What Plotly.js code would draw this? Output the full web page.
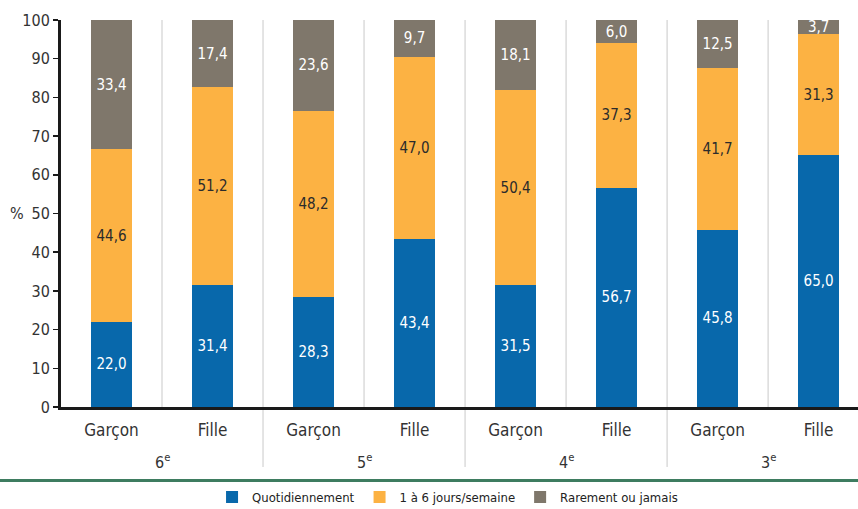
<!DOCTYPE html>
<html>
<head>
<meta charset="utf-8">
<script src="https://cdn.plot.ly/plotly-3.0.1.min.js"></script>
<style>html,body{margin:0;padding:0;background:#fff;}#chart{width:858px;height:509px;}</style>
</head>
<body>
<div id="chart"></div>
<script>
const niveaux = ['6', '5', '4', '3'];
const sexes = ['Garçon', 'Fille'];
const quotidiennement = [22.0, 31.4, 28.3, 43.4, 31.5, 56.7, 45.8, 65.0];
const unASixJours = [44.6, 51.2, 48.2, 47.0, 50.4, 37.3, 41.7, 31.3];
const rarement = [33.4, 17.4, 23.6, 9.7, 18.1, 6.0, 12.5, 3.7];
const seriesNames = ['Quotidiennement', '1 à 6 jours/semaine', 'Rarement ou jamais'];

const FONT = '"Liberation Sans Narrow", "DejaVu Sans Condensed", "Arial Narrow", sans-serif';
const colors = ['#0868ab', '#fcb243', '#7f776b'];
const textColors = ['#ffffff', '#2b2b2b', '#ffffff'];

const xIdx = [];
const tickText = [];
niveaux.forEach((n, i) => sexes.forEach((s, j) => { xIdx.push(i * sexes.length + j); tickText.push(s); }));

const values = [quotidiennement, unASixJours, rarement];
const traces = values.map((v, k) => ({
  type: 'bar',
  x: xIdx,
  y: v,
  name: seriesNames[k],
  width: 0.4,
  marker: {color: colors[k], line: {width: 0}},
  texttemplate: '%{y:.1f}',
  textposition: 'inside',
  insidetextanchor: 'middle',
  constraintext: 'none',
  textfont: {family: FONT, size: 15, color: textColors[k]},
  hoverinfo: 'skip'
}));

const shapes = [];
for (let b = 0; b < xIdx.length - 1; b++) {
  const isGroup = (b + 1) % sexes.length === 0;
  shapes.push({
    type: 'line', xref: 'x', yref: 'paper',
    x0: b + 0.5, x1: b + 0.5, y0: isGroup ? -0.155 : 0, y1: 1,
    line: {color: '#c9c9c9', width: 1}, layer: 'below'
  });
}
shapes.push({
  type: 'line', xref: 'paper', yref: 'paper',
  x0: -61 / 797, x1: 1, y0: -0.19, y1: -0.19,
  line: {color: '#3e7c60', width: 3}
});

const annotations = niveaux.map((n, i) => ({
  xref: 'x', yref: 'paper',
  x: i * sexes.length + (sexes.length - 1) / 2,
  y: -0.142, yanchor: 'middle',
  text: n + '<sup>e</sup>', showarrow: false,
  font: {family: FONT, size: 16, color: '#333333'}
}));
annotations.push({
  xref: 'paper', yref: 'paper', x: -0.055, y: 0.5, xanchor: 'center', yanchor: 'middle',
  text: '%', showarrow: false, font: {family: FONT, size: 16, color: '#333333'}
});

const layout = {
  width: 858, height: 509,
  margin: {l: 61, r: 0, t: 20, b: 102, autoexpand: false},
  paper_bgcolor: '#ffffff', plot_bgcolor: '#ffffff',
  barmode: 'stack',
  separators: ', ',
  showlegend: true,
  legend: {
    orientation: 'h', x: 0.485, xanchor: 'center', y: -0.233, yanchor: 'middle',
    font: {family: FONT, size: 13, color: '#222222'},
    traceorder: 'normal', itemwidth: 30
  },
  xaxis: {
    range: [-0.5, 7.39],
    tickvals: xIdx, ticktext: tickText,
    tickfont: {family: FONT, size: 17, color: '#333333'},
    ticks: '', ticklabelstandoff: 6, showgrid: false, zeroline: false,
    showline: true, linecolor: '#1a1a1a', linewidth: 3,
    fixedrange: true
  },
  yaxis: {
    range: [0, 100], dtick: 10, tick0: 0,
    ticks: 'outside', ticklen: 5, tickwidth: 1.5, tickcolor: '#1a1a1a',
    tickfont: {family: FONT, size: 16, color: '#333333'},
    showgrid: false, zeroline: false,
    showline: true, linecolor: '#1a1a1a', linewidth: 3,
    fixedrange: true
  },
  shapes: shapes,
  annotations: annotations
};

Plotly.newPlot('chart', traces, layout, {displayModeBar: false, staticPlot: true});
</script>
</body>
</html>
